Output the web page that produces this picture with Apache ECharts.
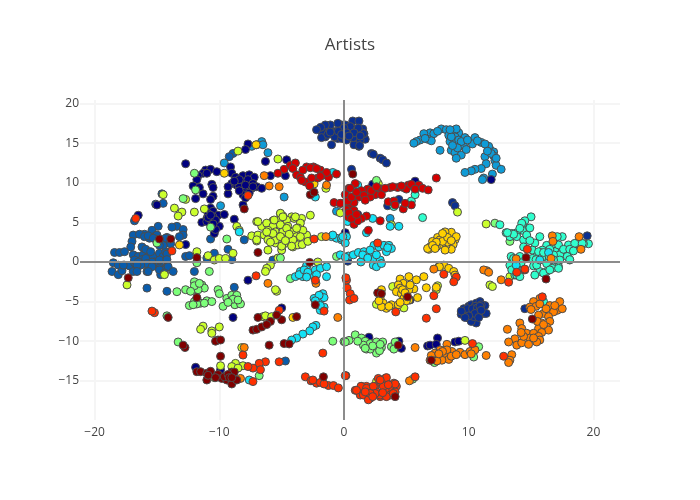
<!DOCTYPE html>
<html>
<head>
<meta charset="utf-8">
<script src="https://cdn.jsdelivr.net/npm/echarts@6/dist/echarts.min.js"></script>
<style>
  html, body { margin: 0; background: #fff; }
  #chart { width: 700px; height: 500px; }
</style>
</head>
<body>
<div id="chart"></div>
<script>
const tickValues = [-20, -10, 0, 10, 20];
const yTickValues = [-15, -10, -5, 0, 5, 10, 15, 20];

const darkRed = [[-11.8,-13.85],[-11.5,-13.85],[-11,-14.05],[-10.7,-13.8],[-10.1,-14.2],[-11,-14.9],[-9.8,-14.7],[-9.4,-14.9],[-9,-15.4],[-8.6,-14.9],[-9,-13.9],[-8.8,-13.9],[-9.6,-14.5],[-9.9,-11.9],[-10.1,-9.85],[-10.3,-10],[-9.9,-9.85],[-12.75,-10.8],[-12.9,-10.5],[-14.1,-7],[-11.8,-4.5],[-17.3,-2],[-6,-10.5],[-4.8,-10.3],[-4.4,-10.35],[-7.3,-8.6],[-7,-8.5],[-6.6,-8.2],[-5.9,-7.5],[-5,-7.3],[-3.8,-6.9],[-6.9,-7],[-5.4,-6.7],[-1.65,-14.5],[-2.3,-5.4],[-2.75,-0.05],[-8,6.7],[-6.9,1.2],[-2.7,8.5],[-2.4,8.8],[-14.8,2.9],[-13.9,2.9],[-11.8,0.55],[14.6,0.55],[0.7,11.1],[2.7,-3.9],[3,-4],[5.1,-4.4],[15.1,-7.2],[7,-12.4],[4.35,-10.5],[4.1,-17],[16.2,-2.15],[-10.9,-14.3],[-9.3,-14.2],[-9.2,-14.6],[-10.3,-14.6],[-9,-14.6],[-6.2,-7.9]];
const redOrange = [[0.2,-2.3],[0.25,-3.3],[0.5,-4],[0.45,-4.8],[0.8,-4.6],[0.15,-2],[0.15,-14.35],[4.15,-6.3],[7.2,-4.25],[7.4,-5.9],[6.6,-7.1],[8,-1.55],[9,-1.9],[8.8,-2.5],[10.3,-10.3],[12.8,-11.9],[13.2,-2.55],[13.85,-1.3],[14.5,-1],[5.7,-14.5],[15.9,-4.4],[1.4,-15.7],[1.15,-16.2],[0.9,-16.2],[1.8,-15.7],[1.7,-16.8],[2.1,-17.2],[2.5,-15.7],[2.75,-14.7],[3.3,-14.7],[3,-15.3],[3.4,-15.3],[4,-15.3],[4.2,-15.7],[3.8,-16],[3.3,-16.2],[2.6,-16.4],[2.9,-17],[3.7,-16.8],[4.1,-16.4],[2.1,-16.4],[1.3,-16.8],[1.36,-15.7],[1.8,-15.95],[1,-16.2],[1.55,-16.8],[1.95,-17.4],[2.35,-15.7],[3.4,-14.6],[3.15,-15.7],[4.1,-15.4],[2.9,-16.8],[2.5,-16.6],[3.4,-17],[3.95,-16.6],[3.55,-15.5],[2.1,-16.6],[1.7,-16.4],[2.3,-17],[3.1,-16.5],[2.9,-14.9],[-15.2,-6.4],[-15.4,-6.2],[-7.05,-1.75],[-1.7,-11.5],[-8.1,-11.75],[0.1,-14.35],[-1.6,-6.2],[-2.3,-2.3],[-5.2,-6.1],[-5.2,-12.6],[-6.3,-12.6],[-6.8,-12.8],[-6.7,-13.6],[-7.3,-13.4],[-7.7,-13.2],[-7.3,-15.1],[-3.1,-14.5],[-2.65,-15],[-2.2,-15.3],[-1.9,-15.2],[-1.25,-15.6],[-0.85,-15.6],[-0.45,-15.9],[-2.5,-14.9],[-1.6,-15.4],[2.7,2.4],[14.7,1.6],[14.5,-0.9],[-7.7,8.4],[-16.7,5.5],[-13.8,1.4],[-2.4,2.9]];
const red = [[-4.8,11.7],[-4.3,12.2],[-3.9,12.5],[-4.1,11.8],[-3.8,11],[-3.5,10.7],[-3,12],[-2.45,12],[-1.9,11.6],[-1.65,11],[-1.25,10.7],[-0.6,11.1],[-3.1,10.1],[-2.75,9.6],[-2.1,10.6],[-2.6,10.6],[-5.3,11.2],[0.4,9.3],[0.1,8.5],[-0.8,7.5],[-0.25,7.4],[0.2,7.6],[0.5,7],[7.4,10.6],[3.7,9.4],[4.3,9.4],[4.75,9.4],[5.15,9.7],[5.6,9.5],[6,9.7],[6.3,9.3],[6.75,9.1],[5,9.2],[2.75,9.3],[2.5,8.5],[3,8.5],[2.1,8.2],[1.9,9.2],[1.4,9],[1.2,8.2],[0.9,9.9],[0.5,9.3],[0.8,7.5],[0.3,7.7],[0.6,8.2],[-0.3,7.4],[0.2,6.6],[0.8,6.5],[0.35,5.7],[0.8,4.75],[1.8,5.8],[1.4,5.5],[1.1,5.2],[2.9,5.2],[1.95,4],[3.55,7.6],[4,7.7],[4.75,6.7],[5.4,7.2],[4.9,7.4],[4.1,7.2],[2.2,9],[2.6,9.5],[3.3,9.3],[3.9,9.5],[4.6,9.6],[5.4,9.8],[5.7,9.2],[1.6,8.4],[1,8.8],[1.7,7.8],[0.4,6.2],[0.6,5.5],[1,6],[-3.3,11.6],[-2.7,11.9],[-2.2,11.8],[-1.4,11.3],[-1.9,10.8],[-3.4,10.3]];
const orange = [[15.7,-4.6],[15.2,-5],[14.9,-5.7],[15.4,-5.6],[16,-6.5],[16.5,-5.5],[17.3,-5],[17.1,-6.1],[17.5,-5.9],[16.8,-6.3],[15.6,-6.7],[16.4,-6.9],[15.85,-7.7],[16.5,-7.5],[16.25,-8.2],[15.6,-8.4],[16.4,-8.6],[14.1,-7.7],[14.25,-8.4],[13.1,-8.5],[14.65,-9],[15.2,-9],[15.85,-8.9],[15.6,-9.4],[15.7,-9.85],[14.9,-9.6],[13.7,-9.7],[13.2,-10.1],[13.85,-10.5],[14.25,-10.2],[14.8,-10.4],[15.45,-10.1],[13.45,-11.7],[13.3,-12.4],[13.2,-12.7],[11.45,-1.1],[11.2,-1],[11.6,-1.3],[12.6,-2.25],[7.2,-0.9],[5.7,-10.8],[5.25,-15],[8.25,-10.4],[7.7,-11.1],[7.3,-11.5],[6.9,-12.4],[7.6,-12],[8,-11.7],[8.4,-12.3],[8.65,-11.3],[9.3,-11.4],[9.7,-11.7],[10.1,-11.3],[10.5,-11.1],[11.4,-11.8],[7.85,-12.4],[7.45,-12.5],[8.25,-11.1],[15,-6],[15.7,-5.3],[16.2,-5.9],[16.9,-5.5],[14.4,-9.4],[15.2,-9.6],[15.5,-7.5],[16,-7.9],[7.9,-11.3],[8.6,-11.9],[7,-11.8],[9,-11.7],[10.2,-11.6],[7.6,-11.6],[14.2,-8.9],[16.7,3.3],[16.75,2.6],[18.85,3.2],[19,1.6],[16.6,0.45],[13.8,0.4],[-6.4,10.9],[-6,9.6],[-5.2,9.5],[-1.45,3.2],[-1.4,9.7],[-6.1,-2.7],[-0.5,-7],[-8,-10.8],[-2.25,-2.7],[-8.3,-14.7]];
const yellow = [[8.6,3.75],[8.1,3.8],[7.5,3.1],[7.1,2.6],[6.8,1.6],[6.9,1.9],[8.1,3.2],[8.9,2.8],[8.75,2.2],[8.6,1.6],[7.75,2.2],[8.2,2.15],[9,3.2],[7.7,2.8],[8.1,1.5],[8.3,2.5],[7.4,1.9],[6.7,1.7],[7.9,2.6],[8.3,3.1],[7.4,2.5],[7.1,2.1],[7.9,3.6],[7.3,1.7],[8.6,2.7],[8,-0.4],[7.6,-0.6],[8.4,-0.8],[7.65,-0.6],[8.8,-1.2],[8.9,-1.65],[4.5,-2.15],[5.2,-1.85],[5.8,-2.25],[6.4,-1.85],[4.75,-2.7],[4.35,-2.9],[4.5,-3.3],[5,-3.5],[5.6,-3.4],[4.2,-3.75],[4.6,-4],[6.6,-3.25],[5.9,-4.5],[4.8,-4.6],[5.2,-4.8],[3,-3.5],[2.9,-4.6],[3.15,-5.2],[3.4,-5.85],[3.8,-5.4],[4.35,-5.4],[3,-5.65],[5.2,-3.5],[7.4,-3.2],[5,-4.9],[4.7,-3.5],[4.9,-3.9],[5.3,-2.9],[2.8,-4.9],[3.6,-5.6],[4.5,-5.1],[-7.05,14.8],[-9.6,11.2],[-2.4,9.85],[-13.2,2.15],[-4.1,-7]];
const yellowGreen = [[-5.1,6.1],[-4.9,5.8],[-4.2,5.7],[-3.4,5.5],[-2.7,5.9],[-5.7,5.2],[-5.1,5.4],[-4.6,5.3],[-4,5.5],[-3.5,4.9],[-7,5.1],[-6.6,4.5],[-6.2,4.9],[-5.7,4.5],[-5.1,4.7],[-4.5,4.5],[-3.7,4.3],[-6.1,4],[-5.5,3.8],[-4.9,3.8],[-4.1,3.8],[-3.5,3.8],[-3,3.4],[-7.4,3.3],[-6.9,3.4],[-6.4,3.4],[-5.7,3],[-5.2,3.2],[-4.5,3],[-3.8,3.2],[-7,2.65],[-5.9,2.7],[-5.5,2.4],[-4.8,2.3],[-4.1,1.9],[-3.7,2.15],[-3.35,2.2],[-2.9,2.6],[-5,1.9],[-5,1.5],[-6.1,1.5],[-5.1,6.15],[-4.9,5.7],[-5.6,5.3],[-6.9,5.1],[-3.9,5.7],[-3.3,4],[-7,2.8],[-6.1,2.8],[-5.5,2.8],[-5,2],[-5.1,3.2],[-4.1,2.8],[-5.7,3.6],[-6.2,3.8],[-5.9,2.5],[-4.2,2],[-3.5,3.2],[-3.8,4.25],[-4.6,4.25],[-4.4,3.5],[-4.7,2.7],[-1.8,3.2],[-5.3,13],[-13.6,6.8],[-13,6.3],[-13.3,5.8],[-12,6.3],[-11.2,6.7],[-8.6,4.5],[-8.4,4],[-11.8,1.3],[-10.9,0.8],[-10.4,0.25],[-10,0.45],[-9.5,0.45],[-8.9,1.1],[-5.9,-0.4],[-6.2,-0.8],[-2.1,0],[-1.45,9.3],[-8.5,14],[-14.5,8.5],[-12.7,7.9],[-6.3,-1.2],[-17.4,-2.9],[-14.4,-1.6],[-5.4,-3.7],[-5.5,-3.5],[-5.3,0.5],[-11.3,-8.1],[-11.5,-8.5],[-10,-8.2],[-10.6,-8.7],[-10.6,-9],[-8.2,-10.8],[-9.9,-13.1],[-10.4,-14.6],[-8.7,-12.8],[-9,-13.2],[-8.1,-13.1],[-8.5,-13.4],[-6.5,-6.9],[-6.3,-6.8],[-5.8,-6.9],[11.4,4.8],[9.1,6.3],[2.75,9.9],[3.8,4.7],[-0.3,6.2],[13.3,-1.85],[11.7,-2.9],[11.9,-3.1],[9.7,-9.9],[3.9,-3.1],[4.8,-5.8],[2.6,-5.35],[2.6,-15.1],[7.4,-3.5],[7.5,-3]];
const green = [[0,-10.05],[0.4,-9.9],[0.9,-9.2],[1.4,-9.6],[1.7,-10],[2.1,-10.3],[1.55,-10.5],[1.8,-11],[2.6,-10.1],[3.1,-10.1],[3,-10.8],[2.6,-11.5],[2.85,-11.2],[2.1,-11],[3.8,-10.7],[4.1,-10.1],[4,-11],[1.1,-10],[2.3,-10.6],[1.7,-10.9],[2.9,-10.4],[10.4,-12],[8.9,-11.7],[10.8,-10.7],[7.25,-12.7],[5.5,-14.8],[-11.8,0],[-13.4,-3.75],[-12.7,-3.5],[-12,-2.5],[-12,-3.5],[-11.4,-2.9],[-11.2,-3.3],[-11.7,-3.5],[-12,-3],[-11.6,-2.7],[-12.3,-3.7],[-11.5,-5.2],[-11,-4.9],[-12,-5],[-10.8,-1.2],[-10.1,-3.5],[-10,-4],[-10.6,-5],[-11.2,-5.2],[-11.8,-5.3],[-12.4,-5.5],[-12.1,-5.4],[-9.4,-4.6],[-9,-4.2],[-8.6,-4.2],[-9.1,-5],[-8.75,-5.4],[-8.3,-5.3],[-9.7,-5.6],[-8.9,-4.7],[-9.3,-5.1],[-8.5,-4.8],[-13.3,-10.1],[-14.2,-6.8],[-4.3,-2.1],[-0.9,-10],[0.1,-10.1],[-6.8,-14.35],[-12.9,8],[-15,2.4],[-11.8,-0.1],[-12,11.2],[-9.4,2.9],[-10.7,4.4],[-0.6,0.7],[-5.1,0.5],[-11.9,9.1],[2.6,10.3],[13.3,2.6],[12.1,4.9]];
const aqua = [[15,5.7],[14.5,5.2],[14.3,4.7],[14.9,4.3],[14.3,4],[13,3.7],[13.45,3.6],[13.85,3.7],[13.3,3.2],[13.85,3.2],[14.4,2.8],[14.65,3.4],[15.7,3.2],[17.5,3.2],[17.1,3.2],[19.6,2.3],[19.2,2.3],[18.6,2.3],[18,2.15],[16.25,2.1],[16.8,1.9],[15.3,2.4],[14.4,1.9],[15.1,1.5],[15.85,1.1],[15.45,0.7],[16.1,0.7],[17.1,1.5],[17.5,1.5],[18,1.1],[18.3,1.5],[17.3,0.9],[16.8,0.9],[18.1,0.25],[17.3,0.25],[15.1,0.45],[13.45,0.55],[14.1,0.45],[16.25,-0.2],[17.2,-0.6],[13.45,-0.6],[15.2,-0.5],[14.25,4.9],[14.1,4.25],[13.6,3.5],[13.1,3.7],[14.9,2.7],[18.5,2.35],[15.9,1.5],[15.6,1.3],[16.8,2.3],[17.2,2.15],[17.6,1.6],[18.1,1.6],[18.4,1.4],[16.8,0.25],[15.85,0.5],[15.4,0.3],[16.7,-0.8],[15.7,-1.2],[16.25,-1.2],[14.1,0.7],[13.4,0.7],[13.3,-0.4],[13.85,-0.2],[14.1,-1.2],[13.7,-1.65],[16,1.2],[19.1,2.35],[16.5,1.6],[17.9,0.7],[6.3,5.6],[12.5,4.7],[13.6,0.45],[13.85,-0.4],[13.45,-1],[14.2,-0.1],[13.85,-1.65],[14.1,-1.85],[15.3,-1.65],[16,-1.4],[16.5,-1],[17.2,-0.8],[15.45,-0.4],[18.1,0.3],[16,-5],[5.4,7.7],[5.7,8.5],[4,7]];
const cyan = [[-1,3.2],[-0.6,3],[-0.2,2.8],[0.2,3.2],[-0.9,3.4],[-8.4,3.8],[-2.3,8.2],[-0.9,11.3],[-3,-0.6],[1.1,9.7],[0.3,5.1],[2.3,5.5],[4.4,4.5],[3.7,4.5],[1.8,3.7],[-0.2,3],[0.1,2.4],[2.4,2.1],[2.8,1.9],[3.2,2.1],[3.6,2.1],[3.8,1.7],[3.4,1.3],[-0.3,0.9],[0.35,0.75],[0.75,0.9],[1.15,1.2],[1.6,1.3],[1.95,1],[2.35,0.3],[2.9,0.25],[1.35,0],[2.35,-0.4],[2.6,-0.6],[3,-0.2],[0.1,0.6],[1.5,0.9],[1.9,0.5],[3.5,1.8],[2.1,1.5],[2.6,0.9],[-0.1,3.2],[13.8,-0.4],[15.7,0.25],[16.4,1.2],[-3,-0.45],[-3.5,-1.2],[-3.9,-1.85],[-3.3,-1.85],[-2.7,-1.6],[-2.3,-1],[-1.9,-0.8],[-1.4,-0.6],[-3.6,-1.6],[-1.4,-1.85],[-3.2,-1],[-2.9,-1.3],[-3,-1.9],[-2.2,-1.6],[-1.7,-4],[-1.8,-4.6],[-2.4,-4.6],[-2.1,-5],[-2.2,-5.4],[-1.9,-6.1],[-1.6,-5.7],[-1.6,-4.5],[-2,-4.2],[-2.3,-4.9],[-1.9,-5.5],[-2.25,-8],[-2.5,-8.2],[-2.75,-8.7],[-3.3,-9.1],[-3.8,-9.6],[-4.2,-9.85],[-7.6,-14.9]];
const lightBlue = [[7.8,16.8],[6.9,16.3],[6.4,16.2],[7.2,16.2],[6.7,15.5],[7,15.3],[6.1,15.4],[5.8,15.2],[5.6,15],[7.7,14.1],[8.2,16.7],[8.4,16],[8.8,16.5],[9.2,16.3],[8.9,15.8],[8.5,15.2],[8.9,15.2],[9.2,15.4],[9.7,15.7],[10.5,15.7],[9.6,14.6],[10.3,14.9],[11,15.1],[8.6,14.1],[8.9,13.8],[9.4,13.5],[9,13.1],[11.7,14.2],[12,13.9],[11.6,14.6],[11.3,13.3],[12,13.4],[12.1,12.8],[11.4,12.4],[11,11.8],[10.5,11.7],[10.2,11.5],[9.7,11.3],[12.2,12.2],[12.6,11.7],[11.9,11.1],[11.2,10.6],[11.1,10.4],[8.6,15.8],[9,16.8],[8.5,16.7],[9.4,15.2],[9.1,14.4],[9.8,14.2],[11.8,13.7],[12.2,13.1],[11.5,14],[11.3,14.9],[10.7,15.3],[9.9,15.4],[7.5,16.5],[8.7,14.7],[6.5,15.6],[3.7,5.5],[-6.1,13.8],[-6.6,15.2],[-7,14.8],[-7.4,14.6],[-6.5,14.8],[-4.8,8.2],[-9.9,7.1],[-9.6,12.5],[-0.6,6.4]];
const blue = [[-14.9,4.5],[-15.4,4],[-16,3.5],[-16.9,3.4],[-16.4,3.5],[-17,2.6],[-17.1,1.9],[-16.2,1.9],[-18.4,1.2],[-18,1.2],[-17.6,1.3],[-16.9,0.9],[-16.5,0.7],[-16.1,0.9],[-15.7,0.7],[-15.3,0.7],[-14.8,1.1],[-14.5,0.7],[-18.5,-0.1],[-18.1,-0.4],[-17.6,-0.4],[-17.2,-0.5],[-16.6,-0.6],[-16,-0.2],[-15.4,-0.4],[-14.8,-0.2],[-14.2,-0.6],[-16.8,-0.1],[-16.2,0.3],[-15.2,0],[-16,3.2],[-15.6,3],[-15.2,3.2],[-14.8,2.4],[-14.1,2.4],[-14.2,3.1],[-15.7,3.3],[-14.8,0.25],[-14.3,1.3],[-14.2,1],[-16.8,0.25],[-16.5,0],[-15.9,0.45],[-15.4,0],[-15.8,-0.2],[-16.3,-0.4],[-16.6,-0.4],[-16.9,-1.2],[-15.8,-1.2],[-15.4,-0.6],[-14.8,-0.8],[-14.4,-1],[-14.7,-1.6],[-15,3.4],[-14.3,3],[-13.9,2.3],[-14.5,2.1],[-14.8,2.1],[-15.3,3],[-15.9,1.6],[-15.5,1.3],[-14.2,0.3],[-13.4,4.5],[-13.8,4.4],[-12.9,4.1],[-12.9,3.4],[-13.2,3.2],[-14.6,8.6],[-14.5,7.4],[-15.1,7.3],[-16.8,5.2],[-10.7,2.9],[-8,2.8],[-9.3,1.6],[-12.7,0.7],[-12.4,0.8],[-11,0.5],[-10.4,1.1],[-9,0.3],[-8.9,13.7],[-9.2,13.3],[-18.6,-1.2],[-18.1,-1.6],[-17.8,-1.1],[-16.6,-1.2],[-15.7,-1.2],[-14.8,-1],[-14.1,-0.6],[-13.7,-1.2],[-14.4,-1.4],[-15.8,-3.3],[-14.2,-3.7],[-12,-1.2],[-8.8,-3.2],[-4.7,-12.5],[-11.8,-4.6],[-5.7,0.25],[-17.7,-0.4]];
const darkBlue = [[0.7,17.8],[1.2,17.8],[1.5,16.8],[0.3,16.3],[0.8,16.8],[0.5,15.8],[0.8,15.6],[1.2,14.6],[0.8,14.8],[1.7,15.5],[1.3,15.4],[1.6,16.2],[1.1,16.2],[0.1,15.5],[-0.2,17.3],[-0.3,15.8],[-1.9,16.8],[-1.7,16.7],[-1.1,16.8],[-0.5,17.5],[-1.1,17.3],[-1.5,17.3],[0.1,17.3],[0,16.5],[-0.6,16.5],[-1.1,16.2],[-1.5,15.8],[-1.8,16.5],[-0.5,15.6],[-1,14.8],[0.5,17.1],[-1.87,17],[-1.8,15.7],[-1.3,16.1],[-0.75,15.8],[-0.2,15.6],[0.2,15.4],[0.75,15.7],[1.25,14.7],[1.55,16.2],[1.15,16.9],[0,16.9],[-0.45,16.5],[-1.1,16.4],[-2.2,16.7],[0.2,16.3],[0.8,16.3],[1.3,15.9],[0.4,15.9],[-0.2,16.1],[2.2,13.7],[2.35,13.6],[2.9,13.1],[3.1,12.9],[3.4,12.5],[0.6,11.7],[8.7,7.5],[8.9,7.1],[9.6,-5.9],[10,-5.6],[10.2,-5.4],[10.6,-5.2],[10.9,-5],[11.3,-5.5],[11,-5.4],[11.2,-6.5],[10.6,-6.3],[10.2,-6.3],[9.8,-6.5],[9.4,-6.6],[10,-7.1],[10.6,-7.7],[10.2,-7.5],[10.4,-6.9],[10.9,-6.6],[9.8,-6.1],[10.5,-5.6],[11.4,-6.5],[9.9,-5.9],[10.3,-5.9],[10.7,-5.8],[10.5,-6.5],[10,-6.8],[10.8,-7],[9.7,-7],[10.9,-5.6],[11,-6.1],[9.4,-6.2],[0.3,0.1],[14.5,-5.9],[19.5,3.3],[3.5,7.1],[4.4,7.9]];
const navy = [[-12.7,12.4],[-7.7,14.9],[-7.9,14.2],[-6.3,12.7],[-9.1,12],[-11.1,11.6],[-10.7,11.7],[-11.3,11.2],[-11.7,10.9],[-10.2,11.4],[-11.8,10.4],[-12.1,9.6],[-11.6,9.4],[-11.9,8],[-11.3,8.6],[-10.6,9.8],[-10.5,9.4],[-10.5,8.3],[-10.7,7.9],[-9.3,8.6],[-9,11.2],[-8.7,10.7],[-8.1,10.9],[-7.6,11],[-7.2,10.7],[-9,9.9],[-8.6,9.7],[-8.1,10.1],[-7.7,10.4],[-7.3,9.9],[-7,9.5],[-6.6,9.3],[-7.4,9.3],[-7.8,9.1],[-8.4,9.5],[-8.1,8.5],[-7.6,8.7],[-8.1,7.2],[-9.3,9.5],[-5.9,10.9],[-4.7,10.9],[-4.6,12.9],[-11,11.2],[-8.4,10.4],[-7.9,9.7],[-7.3,9.5],[-8.8,10.2],[-8.4,9],[-7.9,8.1],[-10.7,6.8],[-10.5,6.4],[-10.9,6.1],[-10.1,5.9],[-9.6,6],[-10.5,5.7],[-11,5.5],[-11.4,5],[-11,5.1],[-10.6,5.1],[-10,4.5],[-10.4,3.6],[-10.3,4.1],[-10.9,5.6],[-10.3,5.3],[-10.7,5.9],[-10.5,4.8],[-8.8,5.4],[-16.5,5.9],[-15,7.2],[-12.7,2.2],[0.1,3.7],[-7.7,-2.3],[-8.9,-7],[-11.9,-13.3],[-9.9,-13.6],[-5,-5.8],[2.3,9.8],[5.7,10.2],[1.1,6],[11.8,10.4],[5.3,-4.8],[2,-9.5],[4.4,-10],[4.6,-10.9],[7.5,-9.6],[6.7,-10.6],[6.9,-10.5],[7.4,-10.4],[8.9,-10.1],[9.2,-10]];

const groups = [
  { name: 'blue', color: '#0a5cab', data: blue },
  { name: 'darkBlue', color: '#0b2f90', data: darkBlue },
  { name: 'lightBlue', color: '#0f9bd6', data: lightBlue },
  { name: 'navy', color: '#00007f', data: navy },
  { name: 'yellowGreen', color: '#cbff2c', data: yellowGreen },
  { name: 'green', color: '#7dff7a', data: green },
  { name: 'aqua', color: '#30ffce', data: aqua },
  { name: 'cyan', color: '#14e1f5', data: cyan },
  { name: 'yellow', color: '#ffd000', data: yellow },
  { name: 'orange', color: '#ff8000', data: orange },
  { name: 'red', color: '#d40000', data: red },
  { name: 'redOrange', color: '#ff3000', data: redOrange },
  { name: 'darkRed', color: '#800000', data: darkRed }
];

const chart = echarts.init(document.getElementById('chart'), null, { renderer: 'canvas' });

const series = groups.map(g => ({
  name: g.name,
  type: 'scatter',
  z: 3,
  symbolSize: 8,
  itemStyle: { color: g.color, borderColor: '#4c4c4c', borderWidth: 1, opacity: 1 },
  data: g.data
}));

// zero lines sit under the markers
series.unshift({
  type: 'scatter',
  z: 1,
  data: [],
  markLine: {
    silent: true,
    symbol: 'none',
    animation: false,
    label: { show: false },
    lineStyle: { color: '#8c8c8c', width: 2, type: 'solid' },
    data: [{ xAxis: 0 }, { yAxis: 0 }]
  }
});

chart.setOption({
  animation: false,
  backgroundColor: '#fff',
  textStyle: { fontFamily: '"Open Sans"' },
  title: {
    text: 'Artists',
    left: 'center',
    top: 32,
    textStyle: { fontFamily: '"Open Sans"', fontSize: 17, fontWeight: 'normal', color: '#444' }
  },
  grid: { left: 80, right: 80, top: 100, bottom: 80 },
  xAxis: {
    type: 'value',
    min: -21.17,
    max: 22.13,
    axisLine: { show: false },
    axisTick: { show: false, customValues: tickValues },
    axisLabel: {
      customValues: tickValues,
      color: '#444', fontSize: 12, margin: 7,
      fontFamily: '"Open Sans"',
      formatter: v => String(v).replace('-', '\u2212')
    },
    splitLine: { show: true, customValues: tickValues, lineStyle: { color: '#f5f5f5', width: 2 } }
  },
  yAxis: {
    type: 'value',
    min: -19.95,
    max: 20.45,
    axisLine: { show: false },
    axisTick: { show: false, customValues: yTickValues },
    axisLabel: {
      customValues: yTickValues,
      color: '#444', fontSize: 12, margin: 1,
      padding: [3, 0, 0, 0],
      fontFamily: '"Open Sans"',
      formatter: v => String(v).replace('-', '\u2212')
    },
    splitLine: { show: true, customValues: yTickValues, lineStyle: { color: '#f5f5f5', width: 2 } }
  },
  series: series
});
</script>
</body>
</html>
